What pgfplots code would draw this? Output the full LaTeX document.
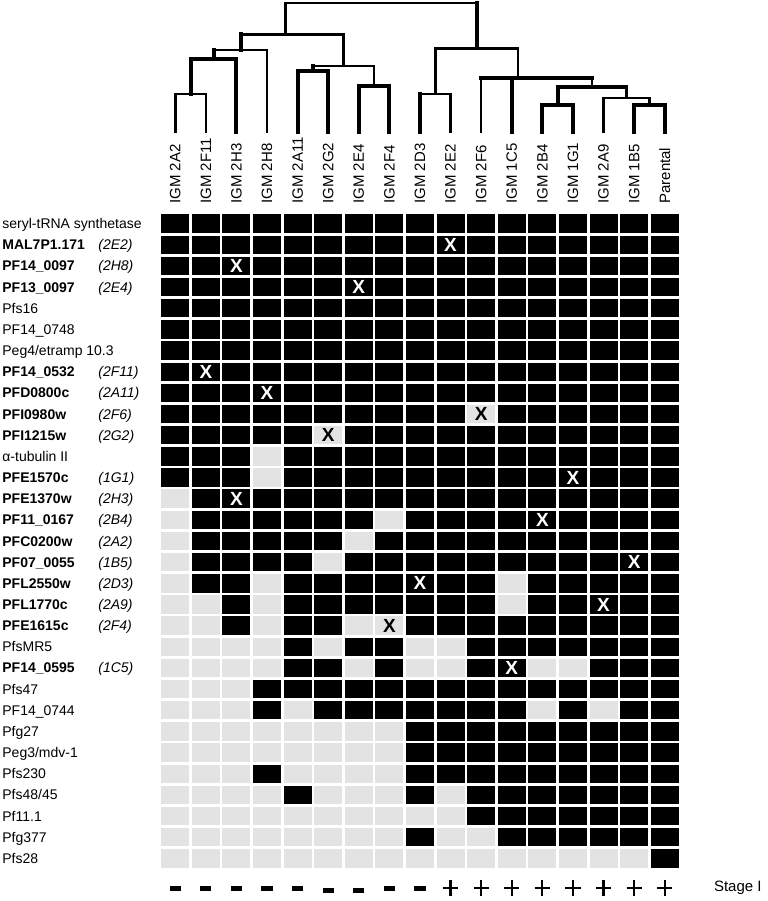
\documentclass[border=0pt]{standalone}
\usepackage{pgfplots}
\pgfplotsset{compat=1.18}
\usepackage{pgfplotstable}
\usepackage{fontspec}
\setmainfont{Liberation Sans}
\definecolor{cellgray}{RGB}{227,227,227}

% one heatmap cell, fixed size
\pgfdeclareplotmark{cell}{%
  \pgfpathrectangle{\pgfpoint{-7pt}{-4.6pt}}{\pgfpoint{14pt}{9.2pt}}%
  \pgfusepathqfill}

\newcommand{\lab}[2]{\makebox[48pt][l]{\bfseries #1}\textit{(#2)}}

% 1 = detected (black), 0 = not detected (grey); rows top to bottom
\pgfplotstableread{
c1 c2 c3 c4 c5 c6 c7 c8 c9 c10 c11 c12 c13 c14 c15 c16 c17
1 1 1 1 1 1 1 1 1 1 1 1 1 1 1 1 1
1 1 1 1 1 1 1 1 1 1 1 1 1 1 1 1 1
1 1 1 1 1 1 1 1 1 1 1 1 1 1 1 1 1
1 1 1 1 1 1 1 1 1 1 1 1 1 1 1 1 1
1 1 1 1 1 1 1 1 1 1 1 1 1 1 1 1 1
1 1 1 1 1 1 1 1 1 1 1 1 1 1 1 1 1
1 1 1 1 1 1 1 1 1 1 1 1 1 1 1 1 1
1 1 1 1 1 1 1 1 1 1 1 1 1 1 1 1 1
1 1 1 1 1 1 1 1 1 1 1 1 1 1 1 1 1
1 1 1 1 1 1 1 1 1 1 0 1 1 1 1 1 1
1 1 1 1 1 0 1 1 1 1 1 1 1 1 1 1 1
1 1 1 0 1 1 1 1 1 1 1 1 1 1 1 1 1
1 1 1 0 1 1 1 1 1 1 1 1 1 1 1 1 1
0 1 1 1 1 1 1 1 1 1 1 1 1 1 1 1 1
0 1 1 1 1 1 1 0 1 1 1 1 1 1 1 1 1
0 1 1 1 1 1 0 1 1 1 1 1 1 1 1 1 1
0 1 1 1 1 0 1 1 1 1 1 1 1 1 1 1 1
0 1 1 0 1 1 1 1 1 1 1 0 1 1 1 1 1
0 0 1 0 1 1 1 1 1 1 1 0 1 1 1 1 1
0 0 1 0 1 1 0 0 1 1 1 1 1 1 1 1 1
0 0 0 0 1 0 1 1 0 0 1 1 1 1 1 1 1
0 0 0 0 1 1 0 1 0 0 1 1 0 0 1 1 1
0 0 0 1 1 1 1 1 1 1 1 1 1 1 1 1 1
0 0 0 1 0 1 1 1 1 1 1 1 0 1 0 1 1
0 0 0 0 0 0 0 0 1 1 1 1 1 1 1 1 1
0 0 0 0 0 0 0 0 1 1 1 1 1 1 1 1 1
0 0 0 1 0 0 0 0 1 1 1 1 1 1 1 1 1
0 0 0 0 1 0 0 0 1 0 1 1 1 1 1 1 1
0 0 0 0 0 0 0 0 0 0 1 1 1 1 1 1 1
0 0 0 0 0 0 0 0 1 0 0 1 1 1 1 1 1
0 0 0 0 0 0 0 0 0 0 0 0 0 0 0 0 1
}\cells

\begin{document}
\begin{tikzpicture}
\begin{axis}[
  name=main,
  scale only axis,
  width=260pt, height=328pt,
  xmin=0.5, xmax=17.5, ymin=0.5, ymax=31.5,
  y dir=reverse,
  clip=false,
  axis line style={draw=none},
  tick style={draw=none},
  xtick={1,...,17},
  xticklabel pos=upper,
  xticklabels={IGM 2A2,IGM 2F11,IGM 2H3,IGM 2H8,IGM 2A11,IGM 2G2,IGM 2E4,IGM 2F4,
    IGM 2D3,IGM 2E2,IGM 2F6,IGM 1C5,IGM 2B4,IGM 1G1,IGM 2A9,IGM 1B5,Parental},
  xticklabel style={rotate=90, anchor=west, inner sep=0pt, xshift=4.5pt,
    font=\fontsize{7.5}{8}\selectfont},
  ytick={1,...,31},
  yticklabels={
    {seryl-tRNA synthetase},
    {\lab{MAL7P1.171}{2E2}},
    {\lab{PF14\_0097}{2H8}},
    {\lab{PF13\_0097}{2E4}},
    {Pfs16},
    {PF14\_0748},
    {Peg4/etramp 10.3},
    {\lab{PF14\_0532}{2F11}},
    {\lab{PFD0800c}{2A11}},
    {\lab{PFI0980w}{2F6}},
    {\lab{PFI1215w}{2G2}},
    {α-tubulin II},
    {\lab{PFE1570c}{1G1}},
    {\lab{PFE1370w}{2H3}},
    {\lab{PF11\_0167}{2B4}},
    {\lab{PFC0200w}{2A2}},
    {\lab{PF07\_0055}{1B5}},
    {\lab{PFL2550w}{2D3}},
    {\lab{PFL1770c}{2A9}},
    {\lab{PFE1615c}{2F4}},
    {PfsMR5},
    {\lab{PF14\_0595}{1C5}},
    {Pfs47},
    {PF14\_0744},
    {Pfg27},
    {Peg3/mdv-1},
    {Pfs230},
    {Pfs48/45},
    {Pf11.1},
    {Pfg377},
    {Pfs28}},
  yticklabel style={anchor=base west, inner sep=0pt, xshift=-79pt, yshift=-2.5pt,
    font=\fontsize{7}{8}\selectfont},
]
\pgfplotsinvokeforeach{1,...,17}{
  \addplot[scatter, only marks, mark=cell,
    scatter src=explicit symbolic,
    scatter/classes={0={fill=cellgray}, 1={fill=black}}]
    table[x expr=#1, y expr=\coordindex+1, meta=c#1] {\cells};
}
% knocked-out genes: X on black cells
\addplot[only marks, mark=none, nodes near coords={X},
  every node near coord/.append style={anchor=center, inner sep=0pt, text=white,
    font=\bfseries\fontsize{9.5}{9.5}\selectfont}]
  coordinates {(10,2) (3,3) (7,4) (2,8) (4,9) (14,13) (3,14) (13,15) (16,17)
    (9,18) (15,19) (12,22)};
% X on grey cells
\addplot[only marks, mark=none, nodes near coords={X},
  every node near coord/.append style={anchor=center, inner sep=0pt, text=black,
    font=\bfseries\fontsize{9.5}{9.5}\selectfont}]
  coordinates {(11,10) (6,11) (8,20)};
% stage I development
\addplot[only marks, mark=-, mark size=2.8pt, mark options={line width=2.5pt}]
  coordinates {(1,32.4) (2,32.4) (3,32.4) (4,32.4) (5,32.4) (6,32.5) (7,32.5)
    (8,32.4) (9,32.4)};
\addplot[only marks, mark=+, mark size=3.8pt, mark options={line width=1.1pt}]
  coordinates {(10,32.4) (11,32.4) (12,32.4) (13,32.4) (14,32.4) (15,32.4)
    (16,32.4) (17,32.4)};
\node[anchor=west, inner sep=0pt, font=\fontsize{7.5}{8}\selectfont]
  at (axis cs:18.6,32.4) {Stage I};
\end{axis}

% dendrogram
\begin{axis}[
  at={(main.north west)}, anchor=south west, yshift=40.5pt,
  scale only axis,
  width=260pt, height=64.6pt,
  xmin=0.5, xmax=17.5, ymin=0, ymax=1,
  hide axis, clip=false,
  unbounded coords=jump,
]
\addplot[black, line width=1.3pt, line cap=rect] coordinates {
  (1,0) (1,0.294) (nan,nan) (2,0) (2,0.294) (nan,nan)
  (4,0) (4,0.634) (nan,nan) (7.5,0.356) (7.5,0.51) (nan,nan)
  (6.5,0.51) (6.5,0.756) (nan,nan) (4.6,0.756) (4.6,1) (nan,nan)
  (10,0) (10,0.294) (nan,nan) (9.5,0.294) (9.5,0.647) (nan,nan)
  (11,0) (11,0.417) (nan,nan) (15,0) (15,0.263) (nan,nan)
  (16.5,0.209) (16.5,0.263) (nan,nan) (15.75,0.263) (15.75,0.352) (nan,nan)
  (14.62,0.352) (14.62,0.417) (nan,nan) (12.2,0.417) (12.2,0.647) (nan,nan)
  (1,0.294) (2,0.294) (nan,nan) (2.25,0.634) (4,0.634) (nan,nan)
  (5.5,0.51) (7.5,0.51) (nan,nan) (3.14,0.756) (6.5,0.756) (nan,nan)
  (9,0.294) (10,0.294) (nan,nan) (15,0.263) (16.5,0.263) (nan,nan)
  (9.5,0.647) (12.2,0.647) (nan,nan) (4.6,1) (10.85,1)
};
\addplot[black, line width=2pt, line cap=rect] coordinates {
  (1.5,0.294) (1.5,0.565) (nan,nan) (3,0) (3,0.565) (nan,nan)
  (2.25,0.565) (2.25,0.634) (nan,nan) (3.14,0.634) (3.14,0.756) (nan,nan)
  (5,0) (5,0.472) (nan,nan) (6,0) (6,0.472) (nan,nan)
  (5.5,0.472) (5.5,0.51) (nan,nan) (7,0) (7,0.356) (nan,nan)
  (8,0) (8,0.356) (nan,nan) (9,0) (9,0.294) (nan,nan)
  (12,0) (12,0.417) (nan,nan) (13,0) (13,0.209) (nan,nan)
  (14,0) (14,0.209) (nan,nan) (13.5,0.209) (13.5,0.352) (nan,nan)
  (16,0) (16,0.209) (nan,nan) (17,0) (17,0.209) (nan,nan)
  (10.85,0.647) (10.85,1) (nan,nan)
  (1.5,0.565) (3,0.565) (nan,nan) (5,0.472) (6,0.472) (nan,nan)
  (7,0.356) (8,0.356) (nan,nan) (13,0.209) (14,0.209) (nan,nan)
  (16,0.209) (17,0.209) (nan,nan) (13.5,0.352) (15.75,0.352) (nan,nan)
  (11,0.417) (14.62,0.417)
};
\end{axis}

\path ([xshift=-80pt,yshift=106.5pt]main.north west)
  rectangle ([xshift=44pt,yshift=-16pt]main.south east);
\end{tikzpicture}
\end{document}
